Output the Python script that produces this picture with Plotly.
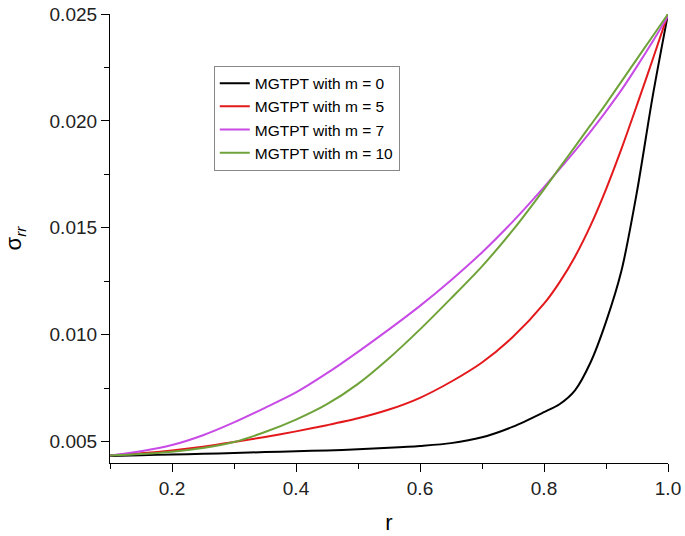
import plotly.graph_objects as go

r = [0.1, 0.15, 0.2, 0.25, 0.3, 0.35, 0.4, 0.45, 0.5, 0.55, 0.6, 0.65, 0.7,
     0.75, 0.8, 0.825, 0.85, 0.875, 0.9, 0.925, 0.95, 0.975, 1.0]

m0 = [0.00433, 0.00436, 0.00440, 0.00443, 0.00447, 0.00451, 0.00455, 0.00459,
      0.00464, 0.00471, 0.00480, 0.00493, 0.00520, 0.00570, 0.00638, 0.00675,
      0.00740, 0.00870, 0.01060, 0.01300, 0.01670, 0.02110, 0.02500]
m5 = [0.00436, 0.00446, 0.00459, 0.00476, 0.00498, 0.00522, 0.00548, 0.00577,
      0.00609, 0.00650, 0.00705, 0.00780, 0.00870, 0.00990, 0.01145, 0.01245,
      0.01365, 0.01510, 0.01680, 0.01870, 0.02075, 0.02285, 0.02500]
m7 = [0.00435, 0.00455, 0.00484, 0.00530, 0.00590, 0.00658, 0.00730, 0.00820,
      0.00920, 0.01025, 0.01135, 0.01255, 0.01385, 0.01530, 0.01690, 0.01775,
      0.01860, 0.01950, 0.02045, 0.02145, 0.02255, 0.02370, 0.02490]
m10 = [0.00435, 0.00442, 0.00453, 0.00470, 0.00498, 0.00545, 0.00603, 0.00675,
       0.00770, 0.00890, 0.01025, 0.01170, 0.01320, 0.01490, 0.01680, 0.01780,
       0.01880, 0.01980, 0.02080, 0.02185, 0.02290, 0.02395, 0.02500]

names = ["MGTPT with m = 0", "MGTPT with m = 5", "MGTPT with m = 7", "MGTPT with m = 10"]
colors = ["#000000", "#E3191C", "#C84BE6", "#6FA33A"]
series = [m0, m5, m7, m10]

x_ticks = [0.2, 0.4, 0.6, 0.8, 1.0]
x_labels = ["0.2", "0.4", "0.6", "0.8", "1.0"]
y_ticks = [0.005, 0.010, 0.015, 0.020, 0.025]
y_labels = ["0.005", "0.010", "0.015", "0.020", "0.025"]

fig = go.Figure()
for nm, col, ys in zip(names, colors, series):
    fig.add_trace(go.Scatter(x=r, y=ys, mode="lines", name=nm,
                             line=dict(color=col, width=2, shape="spline", smoothing=0.8)))

font = "Arial, Liberation Sans, sans-serif"
fig.update_layout(
    width=685, height=536,
    margin=dict(l=110, r=17, t=14, b=73),
    paper_bgcolor="white", plot_bgcolor="white",
    font=dict(family=font, color="black"),
    showlegend=True,
    legend=dict(x=0.186, y=0.885, xanchor="left", yanchor="top",
                bgcolor="white", bordercolor="#888888", borderwidth=1,
                font=dict(size=15.5, family=font), tracegroupgap=0),
)
fig.update_xaxes(
    range=[0.1, 1.0], tickvals=x_ticks, ticktext=x_labels, automargin=False,
    ticklabeloverflow="allow",
    showgrid=False, zeroline=False, showline=True, linecolor="black", linewidth=1.2,
    ticks="outside", ticklen=8, tickwidth=1.2, tickcolor="black",
    tickfont=dict(size=19, family=font, color="#222"),
    minor=dict(ticks="outside", ticklen=5, tickwidth=1.2, tickcolor="black", dtick=0.1, tick0=0.1),
    title=dict(text="r", font=dict(size=22, family=font), standoff=16),
)
fig.update_yaxes(
    range=[0.004, 0.025], tickvals=y_ticks, ticktext=y_labels, automargin=False,
    ticklabeloverflow="allow",
    showgrid=False, zeroline=False, showline=True, linecolor="black", linewidth=1.2,
    ticks="outside", ticklen=8, tickwidth=1.2, tickcolor="black",
    tickfont=dict(size=19, family=font, color="#222"),
    minor=dict(ticks="outside", ticklen=5, tickwidth=1.2, tickcolor="black", dtick=0.0025, tick0=0.0025),
    title=dict(text="σ<sub><i>rr</i></sub>", font=dict(size=22, family=font), standoff=21),
)

# remove the browser's default 8px body margin so the figure fills the window
fig.write_html("out.html",
               config={"displayModeBar": False},
               post_script="document.body.style.margin='0';document.body.style.overflow='hidden';")
